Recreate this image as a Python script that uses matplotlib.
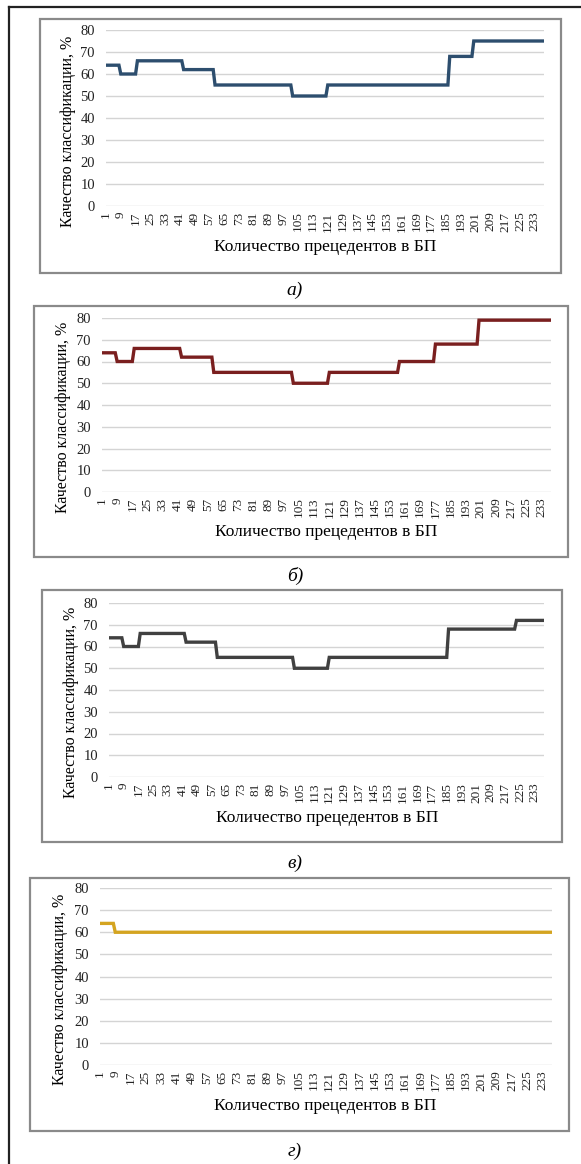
import matplotlib
matplotlib.use("Agg")
from matplotlib import pyplot as plt
from matplotlib.patches import Rectangle
from matplotlib.lines import Line2D

plt.rcParams['font.family'] = ['Liberation Serif', 'DejaVu Serif']

# run-length data: (value %, number of consecutive points)
runs_a = [(64, 8), (60, 9), (66, 25), (62, 17), (55, 42), (50, 19), (55, 66), (68, 13), (75, 39)]
runs_b = [(64, 8), (60, 9), (66, 25), (62, 17), (55, 42), (50, 19), (55, 37), (60, 19), (68, 23), (79, 39)]
runs_v = [(64, 8), (60, 9), (66, 25), (62, 17), (55, 42), (50, 19), (55, 65), (68, 37), (72, 16)]
runs_g = [(64, 8), (60, 230)]

n_points = 238
x_labels = ['1', '9', '17', '25', '33', '41', '49', '57', '65', '73', '81', '89', '97', '105',
            '113', '121', '129', '137', '145', '153', '161', '169', '177', '185', '193', '201',
            '209', '217', '225', '233']
y_ticks = [0, 10, 20, 30, 40, 50, 60, 70, 80]

ylabel = 'Качество классификации, %'
xlabel = 'Количество прецедентов в БП'
captions = ['а)', 'б)', 'в)', 'г)']
colors = ['#2D4E6E', '#7A1F1F', '#404040', '#D4A420']

W, H = 581, 1164
fig = plt.figure(figsize=(W / 100, H / 100), dpi=100)


def fx(x):
    return x / W


def fy(y):
    return 1 - y / H


def expand(runs):
    vals = []
    for v, n in runs:
        vals += [v] * n
    return vals


# panel layout in pixels: box (l, t, r, b), plot (l, top80, r, bottom0), ylabel xy, xlabel xy, caption y
panels = [
    dict(runs=runs_a, box=(40, 19, 561, 273), plot=(106, 30, 544, 206), yl=(68, 131), xl=(325, 247), cap=290),
    dict(runs=runs_b, box=(34, 306, 568, 557), plot=(102, 318, 551, 492), yl=(63, 417), xl=(326, 532), cap=576),
    dict(runs=runs_v, box=(42, 590, 562, 842), plot=(109, 603, 544, 777), yl=(71, 702), xl=(327, 818), cap=863),
    dict(runs=runs_g, box=(30, 878, 569, 1131), plot=(100, 888, 552, 1065), yl=(60, 989), xl=(325, 1106), cap=1151),
]

# outer page frame (left and top)
fig.add_artist(Line2D([fx(9), fx(9)], [fy(7), fy(H)], color='#222222', lw=1.6))
fig.add_artist(Line2D([fx(9), fx(W)], [fy(7), fy(7)], color='#222222', lw=1.6))

for i, p in enumerate(panels):
    bl, bt, br, bb = p['box']
    fig.add_artist(Rectangle((fx(bl), fy(bb)), fx(br - bl), (bb - bt) / H,
                             facecolor='white', edgecolor='#8a8a8a', lw=1.6, zorder=-1))
    pl, pt, pr, pb = p['plot']
    ax = fig.add_axes([fx(pl), fy(pb), fx(pr - pl), (pb - pt) / H])
    ax.set_facecolor('none')
    vals = expand(p['runs'])
    xs = list(range(1, len(vals) + 1))
    ax.plot(xs, vals, color=colors[i], lw=2.4, solid_joinstyle='miter')
    ax.set_xlim(1, n_points)
    ax.set_ylim(0, 80)
    ax.set_yticks(y_ticks)
    ax.set_xticks([int(s) for s in x_labels])
    ax.set_xticklabels(x_labels, rotation=90, fontsize=9.5, color='#222222')
    ax.tick_params(axis='y', length=0, pad=8, labelsize=10.5, labelcolor='#222222')
    ax.tick_params(axis='x', length=0, pad=4)
    for s in ax.spines.values():
        s.set_visible(False)
    ax.grid(axis='y', color='#d4d4d4', lw=1.0)
    ax.set_axisbelow(True)
    fig.text(fx(p['yl'][0]), fy(p['yl'][1]), ylabel, rotation=90, ha='center', va='center', fontsize=11.5)
    fig.text(fx(p['xl'][0]), fy(p['xl'][1]), xlabel, ha='center', va='center', fontsize=12.5)
    fig.text(fx(295), fy(p['cap']), captions[i], ha='center', va='center', fontsize=14, style='italic')

fig.savefig('out.png', dpi=100)
